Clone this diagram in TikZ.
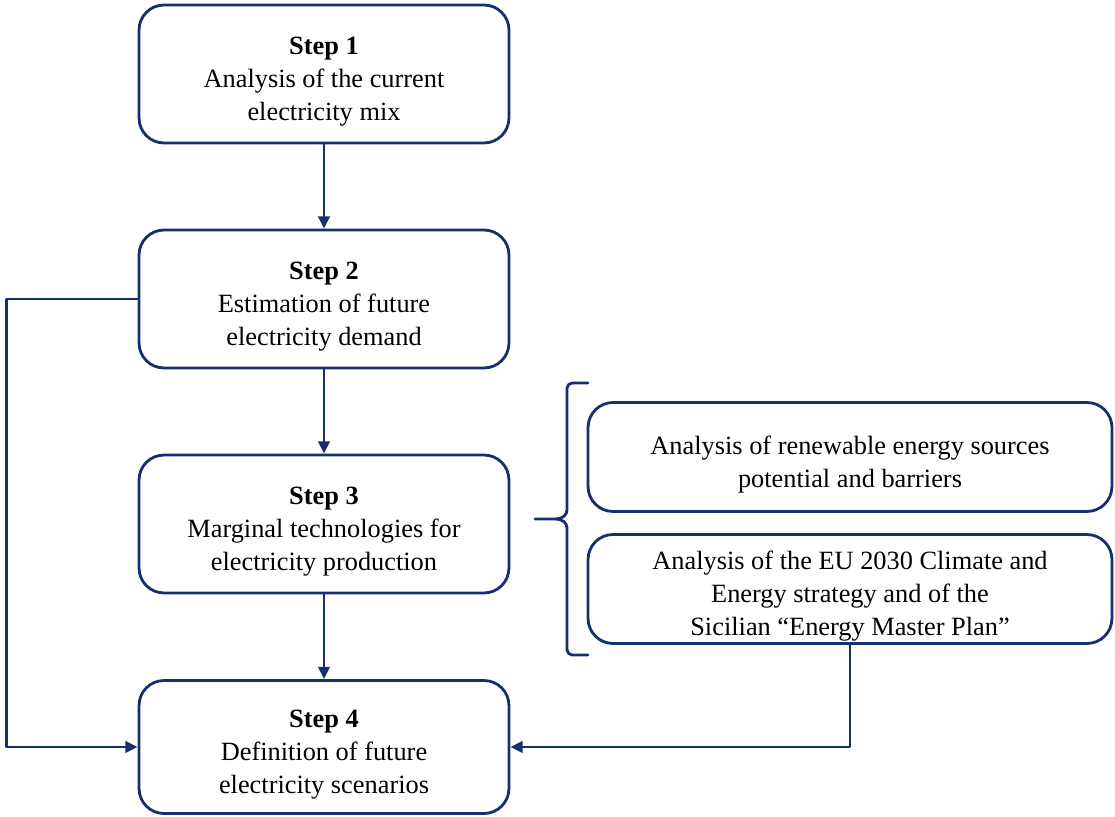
\documentclass[tikz,border=0pt]{standalone}
\usepackage{fontspec}
\setmainfont{Liberation Serif}
\usetikzlibrary{arrows.meta,positioning}
\definecolor{navy}{RGB}{22,48,110}
\newcommand\topgap{\rule{0pt}{19pt}}
\begin{document}
\begin{tikzpicture}[x=0.02cm,y=-0.02cm,>={Triangle[length=7pt,width=6.5pt]}, line join=round, line cap=round,
  box/.style={draw=navy,line width=1.6pt,rounded corners=0.5cm,align=center,minimum width=7.4cm,minimum height=2.76cm,inner sep=0pt,
    font=\fontsize{15}{18.7}\selectfont},
  side/.style={box,minimum width=10.48cm,minimum height=2.18cm},
  link/.style={draw=navy,line width=1.6pt}]
\useasboundingbox (0,0) rectangle (1115,817);
\node[box] (s1) at (324,74) {\topgap\textbf{Step 1}\\Analysis of the current\\electricity mix};
\node[box] (s2) at (324,299) {\topgap\textbf{Step 2}\\Estimation of future\\electricity demand};
\node[box] (s3) at (324,524) {\topgap\textbf{Step 3}\\Marginal technologies for\\electricity production};
\node[box,minimum height=2.66cm] (s4) at (324,747) {\topgap\textbf{Step 4}\\Definition of future\\electricity scenarios};
\node[side] (res) at (850,457) {\topgap Analysis of renewable energy sources\\potential and barriers};
\node[side] (eu) at (850,589) {\topgap Analysis of the EU 2030 Climate and\\Energy strategy and of the\\Sicilian “Energy Master Plan”};
\draw[link,->] (s1) -- (s2);
\draw[link,->] (s2) -- (s3);
\draw[link,->] (s3) -- (s4);
\draw[link,->] (s2.west) -- ++(-131,0) |- (s4.west);
\draw[link,->] (eu.south) |- (s4.east);
% brace
\draw[link,rounded corners=3pt] (588,383) -- (567,383) -- (567,510);
\draw[link] (567,510) to[out=-90,in=0] (556,519) -- (535,519);
\draw[link] (556,519) to[out=0,in=90] (567,528);
\draw[link,rounded corners=3pt] (567,528) -- (567,655) -- (588,655);
\end{tikzpicture}
\end{document}
